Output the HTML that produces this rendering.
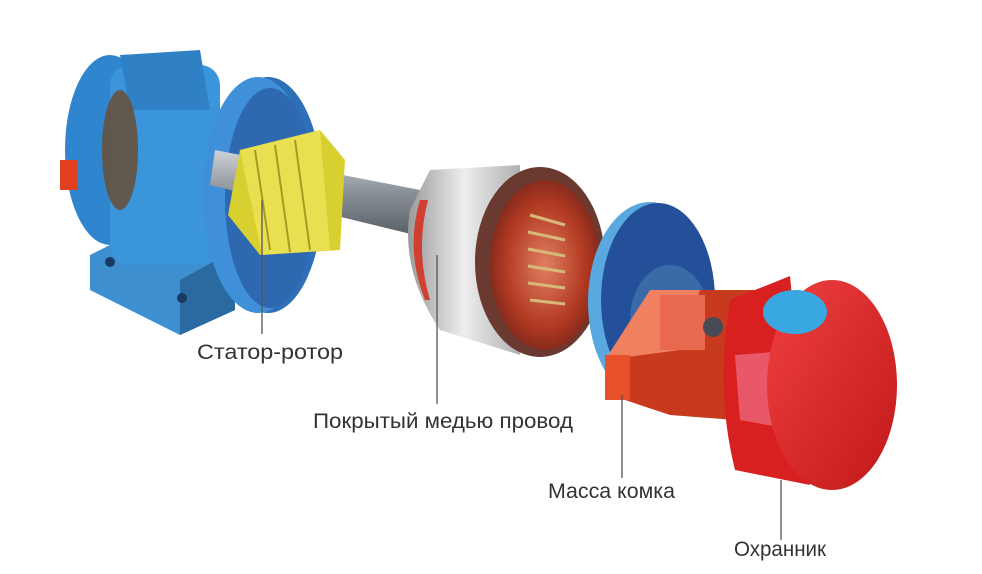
<!DOCTYPE html>
<html><head><meta charset="utf-8"><style>
html,body{margin:0;padding:0;background:#fff;}
svg{display:block}
text{font-family:"Liberation Sans",sans-serif;font-size:21px;fill:#333;}
</style></head><body>
<svg width="982" height="574" viewBox="0 0 982 574" xmlns="http://www.w3.org/2000/svg">
<defs>
<linearGradient id="sh" x1="0" y1="0" x2="0" y2="1"><stop offset="0" stop-color="#cfd3d8"/><stop offset=".5" stop-color="#8a9098"/><stop offset="1" stop-color="#5a6068"/></linearGradient>
<linearGradient id="st" x1="0" y1="0" x2="1" y2="0"><stop offset="0" stop-color="#9a9a9a"/><stop offset=".5" stop-color="#eeeeee"/><stop offset="1" stop-color="#b0b0b0"/></linearGradient>
<radialGradient id="cu" cx=".5" cy=".5" r=".6"><stop offset="0" stop-color="#e08060"/><stop offset=".6" stop-color="#b23a22"/><stop offset="1" stop-color="#6a2018"/></radialGradient>
<linearGradient id="rd" x1="0" y1="0" x2="1" y2="1"><stop offset="0" stop-color="#f04040"/><stop offset="1" stop-color="#c01818"/></linearGradient>
</defs>
<polygon points="90,255 150,225 235,250 235,310 180,335 90,290" fill="#3d8fd0"/>
<polygon points="180,335 235,310 235,250 180,280" fill="#2a6aa0"/>
<circle cx="110" cy="262" r="5" fill="#1a3a60"/><circle cx="182" cy="298" r="5" fill="#1a3a60"/>
<ellipse cx="110" cy="150" rx="45" ry="95" fill="#2f86cf"/>
<rect x="110" y="65" width="110" height="200" rx="20" fill="#3b95db"/>
<polygon points="120,55 200,50 210,110 130,110" fill="#2f80c4"/>
<ellipse cx="120" cy="150" rx="18" ry="60" fill="#6b4a2a" opacity=".8"/>
<rect x="60" y="160" width="18" height="30" fill="#e04020"/>
<ellipse cx="268" cy="195" rx="55" ry="118" fill="#2f6fb8"/>
<ellipse cx="258" cy="195" rx="55" ry="118" fill="#3f90d8"/>
<ellipse cx="270" cy="198" rx="45" ry="110" fill="#2d68b0"/>
<polygon points="215,150 420,190 415,235 210,185" fill="url(#sh)"/>
<polygon points="240,150 320,130 345,160 340,250 260,255 228,215" fill="#d8d030"/>
<polygon points="240,150 320,130 330,250 262,255" fill="#e8e050"/>
<g stroke="#a89a20" stroke-width="2"><line x1="255" y1="150" x2="270" y2="250"/><line x1="275" y1="145" x2="290" y2="252"/><line x1="295" y1="140" x2="310" y2="250"/></g>
<path d="M430,170 L520,165 L520,355 L440,330 Q400,270 410,210 Z" fill="url(#st)"/>
<path d="M420,200 Q405,250 425,300 L430,300 Q415,250 428,200 Z" fill="#d04030"/>
<ellipse cx="540" cy="262" rx="65" ry="95" fill="#6a3a30"/>
<ellipse cx="545" cy="265" rx="55" ry="85" fill="url(#cu)"/>
<g stroke="#d8b878" stroke-width="3"><line x1="530" y1="215" x2="565" y2="225"/><line x1="528" y1="232" x2="565" y2="240"/><line x1="528" y1="249" x2="565" y2="256"/><line x1="528" y1="266" x2="565" y2="272"/><line x1="528" y1="283" x2="565" y2="288"/><line x1="530" y1="300" x2="565" y2="304"/></g>
<ellipse cx="650" cy="302" rx="62" ry="100" fill="#5aa8e0"/>
<ellipse cx="658" cy="300" rx="57" ry="97" fill="#24509a"/>
<ellipse cx="670" cy="320" rx="40" ry="55" fill="#3a6aa8"/>
<polygon points="605,360 630,350 700,290 755,290 760,370 735,420 670,415 610,395" fill="#c83a1e"/>
<polygon points="605,360 680,350 700,290 650,290" fill="#f08060"/>
<rect x="605" y="355" width="25" height="45" fill="#e8502a"/>
<rect x="660" y="295" width="45" height="55" fill="#e86850"/>
<circle cx="713" cy="327" r="10" fill="#4a4a55"/>
<path d="M790,276 L730,300 Q715,390 735,470 L810,485 Z" fill="#d82020"/>
<path d="M735,355 L800,350 L795,430 L740,420 Z" fill="#f07088" opacity=".7"/>
<ellipse cx="832" cy="385" rx="65" ry="105" fill="url(#rd)"/>
<ellipse cx="795" cy="312" rx="32" ry="22" fill="#3aa8e0"/>
<g stroke="#555" stroke-width="1.3">
<line x1="262" y1="200" x2="262" y2="334"/>
<line x1="437" y1="255" x2="437" y2="404"/>
<line x1="622" y1="395" x2="622" y2="478"/>
<line x1="781" y1="480" x2="781" y2="540"/>
</g>
<text x="197" y="359" textLength="146" lengthAdjust="spacingAndGlyphs">Статор-ротор</text>
<text x="313" y="428" textLength="260" lengthAdjust="spacingAndGlyphs">Покрытый медью провод</text>
<text x="548" y="498" textLength="127" lengthAdjust="spacingAndGlyphs">Масса комка</text>
<text x="734" y="556" textLength="92" lengthAdjust="spacingAndGlyphs">Охранник</text>
</svg>
</body></html>
